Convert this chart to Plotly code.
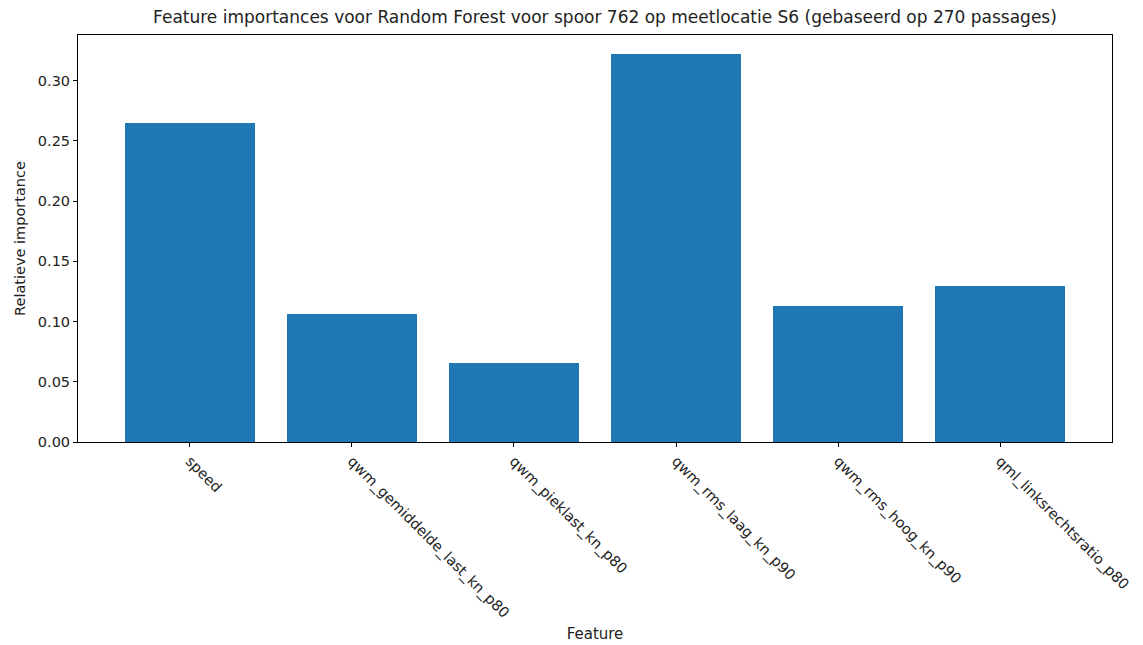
import plotly.graph_objects as go

features = ["speed", "qwm_gemiddelde_last_kn_p80", "qwm_pieklast_kn_p80",
            "qwm_rms_laag_kn_p90", "qwm_rms_hoog_kn_p90", "qml_linksrechtsratio_p80"]
importances = [0.265, 0.1065, 0.0655, 0.3225, 0.113, 0.1295]
y_ticks = [0.00, 0.05, 0.10, 0.15, 0.20, 0.25, 0.30]

fig = go.Figure(go.Bar(
    x=list(range(len(features))), y=importances, width=0.8,
    marker=dict(color="#1f77b4", line=dict(width=0)),
))

font_family = "DejaVu Sans"
fig.update_layout(
    width=1143, height=645,
    margin=dict(l=70, r=39, t=27, b=211, autoexpand=False),
    paper_bgcolor="white", plot_bgcolor="white",
    font=dict(family=font_family, size=14.5, color="#222"),
    title=dict(text="Feature importances voor Random Forest voor spoor 762 op meetlocatie S6 (gebaseerd op 270 passages)",
               x=0.5223, xanchor="center", y=0.986, yanchor="middle",
               font=dict(size=17, color="#222")),
    showlegend=False,
    bargap=0,
)
fig.update_xaxes(
    range=[-0.69, 5.69], automargin=False,
    tickmode="array", tickvals=list(range(len(features))), ticktext=features,
    tickangle=45, ticks="outside", ticklen=4, tickcolor="black",
    showline=True, linecolor="black", linewidth=1, mirror=True,
    showgrid=False, zeroline=False,
    title=dict(text="Feature", font=dict(size=15), standoff=8),
)
fig.update_yaxes(
    range=[0, 0.338], automargin=False,
    tickmode="array", tickvals=y_ticks, ticktext=[f"{v:.2f}" for v in y_ticks],
    ticks="outside", ticklen=4, tickcolor="black",
    showline=True, linecolor="black", linewidth=1, mirror=True,
    showgrid=False, zeroline=False,
    title=dict(text="Relatieve importance", font=dict(size=14.5), standoff=8),
)

fig.write_html("out.html")
